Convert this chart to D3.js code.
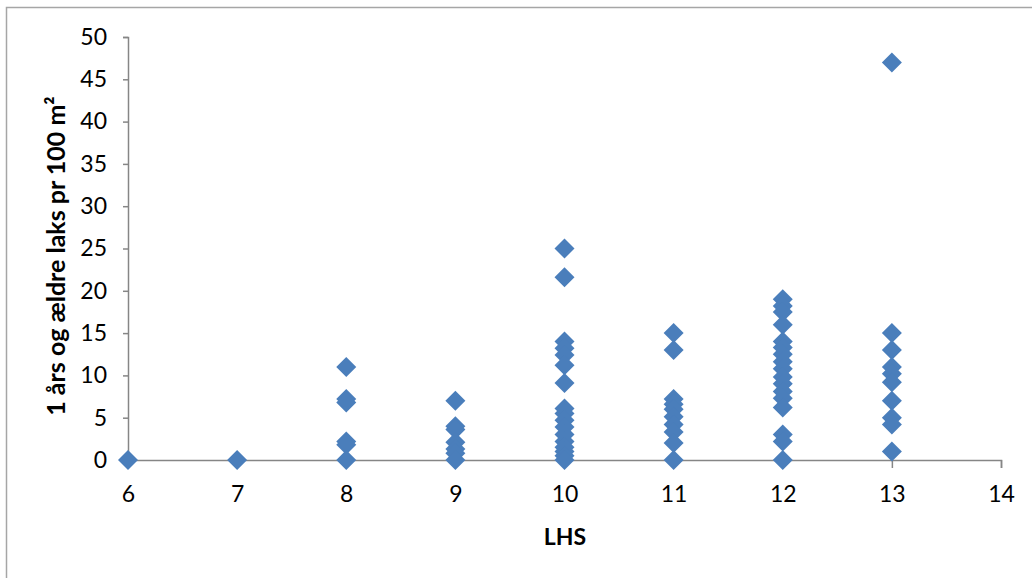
<!DOCTYPE html>
<html>
<head>
<meta charset="utf-8">
<script src="https://cdn.jsdelivr.net/npm/d3@7"></script>
<style>
  body { margin: 0; background: #fff; }
  svg { display: block; font-family: Lato, "Open Sans", sans-serif; }
</style>
</head>
<body>
<svg width="1032" height="578"></svg>
<script>
"use strict";
// LHS category and observed values (1 års og ældre laks pr 100 m2)
let lhs6 = [0];
let lhs7 = [0];
let lhs8 = [11, 7.2, 6.8, 2.2, 1.8, 0];
let lhs9 = [7, 4, 3.6, 2.1, 1.3, 0.8, 0];
let lhs10 = [25, 21.6, 14, 13.2, 12.4, 11.2, 9.1, 6.1, 5.5, 4.7, 3.9, 3, 2.2, 1.5, 1, 0.5, 0];
let lhs11 = [15, 13, 7.2, 6.6, 6, 5.1, 4.2, 3.3, 2, 0];
let lhs12 = [19, 18.2, 17.5, 16, 14, 13.3, 12.5, 11.6, 10.8, 9.8, 9, 8.1, 7.3, 6.2, 3, 2.2, 0];
let lhs13 = [47, 15, 13, 11, 10.2, 9.2, 7, 5, 4.2, 1];

let xTicks = [6, 7, 8, 9, 10, 11, 12, 13, 14];
let yTicks = [0, 5, 10, 15, 20, 25, 30, 35, 40, 45, 50];

let groups = [[6, lhs6], [7, lhs7], [8, lhs8], [9, lhs9], [10, lhs10], [11, lhs11], [12, lhs12], [13, lhs13]];
let dataArray = [];
groups.forEach(g => g[1].forEach(v => dataArray.push({ x: g[0], y: v })));

let svg = d3.select("svg");
let axisColor = "#868686";

// chart frame
svg.append("path")
    .attr("d", "M6.5,578 V7.5 H1032")
    .attr("fill", "none")
    .attr("stroke", "#a6a6a6")
    .attr("stroke-width", 1.5);

let x = d3.scaleLinear().domain([6, 14]).range([128, 1001]);
let y = d3.scaleLinear().domain([0, 50]).range([460, 37]);

let xAxis = svg.append("g")
    .attr("transform", "translate(0,460)")
    .call(d3.axisBottom(x).tickValues(xTicks).tickSize(8).tickPadding(18).tickFormat(d3.format("d")));
let yAxis = svg.append("g")
    .attr("transform", "translate(128,0)")
    .call(d3.axisLeft(y).tickValues(yTicks).tickSize(5).tickPadding(16).tickFormat(d3.format("d")));

[xAxis, yAxis].forEach(a => {
    a.select(".domain").attr("stroke", axisColor).attr("stroke-width", 1.5);
    a.selectAll(".tick line").attr("stroke", axisColor).attr("stroke-width", 1.5);
    a.selectAll("text").attr("fill", "#000").style("font-size", "23px").style("font-family", "Lato, 'Open Sans', sans-serif");
});

// markers
let diamond = d3.symbol().type(d3.symbolSquare).size(200);
svg.append("g").selectAll("path")
    .data(dataArray)
    .enter().append("path")
    .attr("d", diamond)
    .attr("transform", d => "translate(" + x(d.x) + "," + y(d.y) + ") rotate(45)")
    .attr("fill", "#4a7ebb");

// axis titles
svg.append("text")
    .attr("x", 565)
    .attr("y", 545)
    .attr("text-anchor", "middle")
    .style("font-size", "23px")
    .style("font-weight", "bold")
    .text("LHS");

svg.append("text")
    .attr("transform", "translate(65,256) rotate(-90)")
    .attr("text-anchor", "middle")
    .style("font-size", "25px")
    .style("font-weight", "bold")
    .text("1 års og ældre laks pr 100 m²");
</script>
</body>
</html>
